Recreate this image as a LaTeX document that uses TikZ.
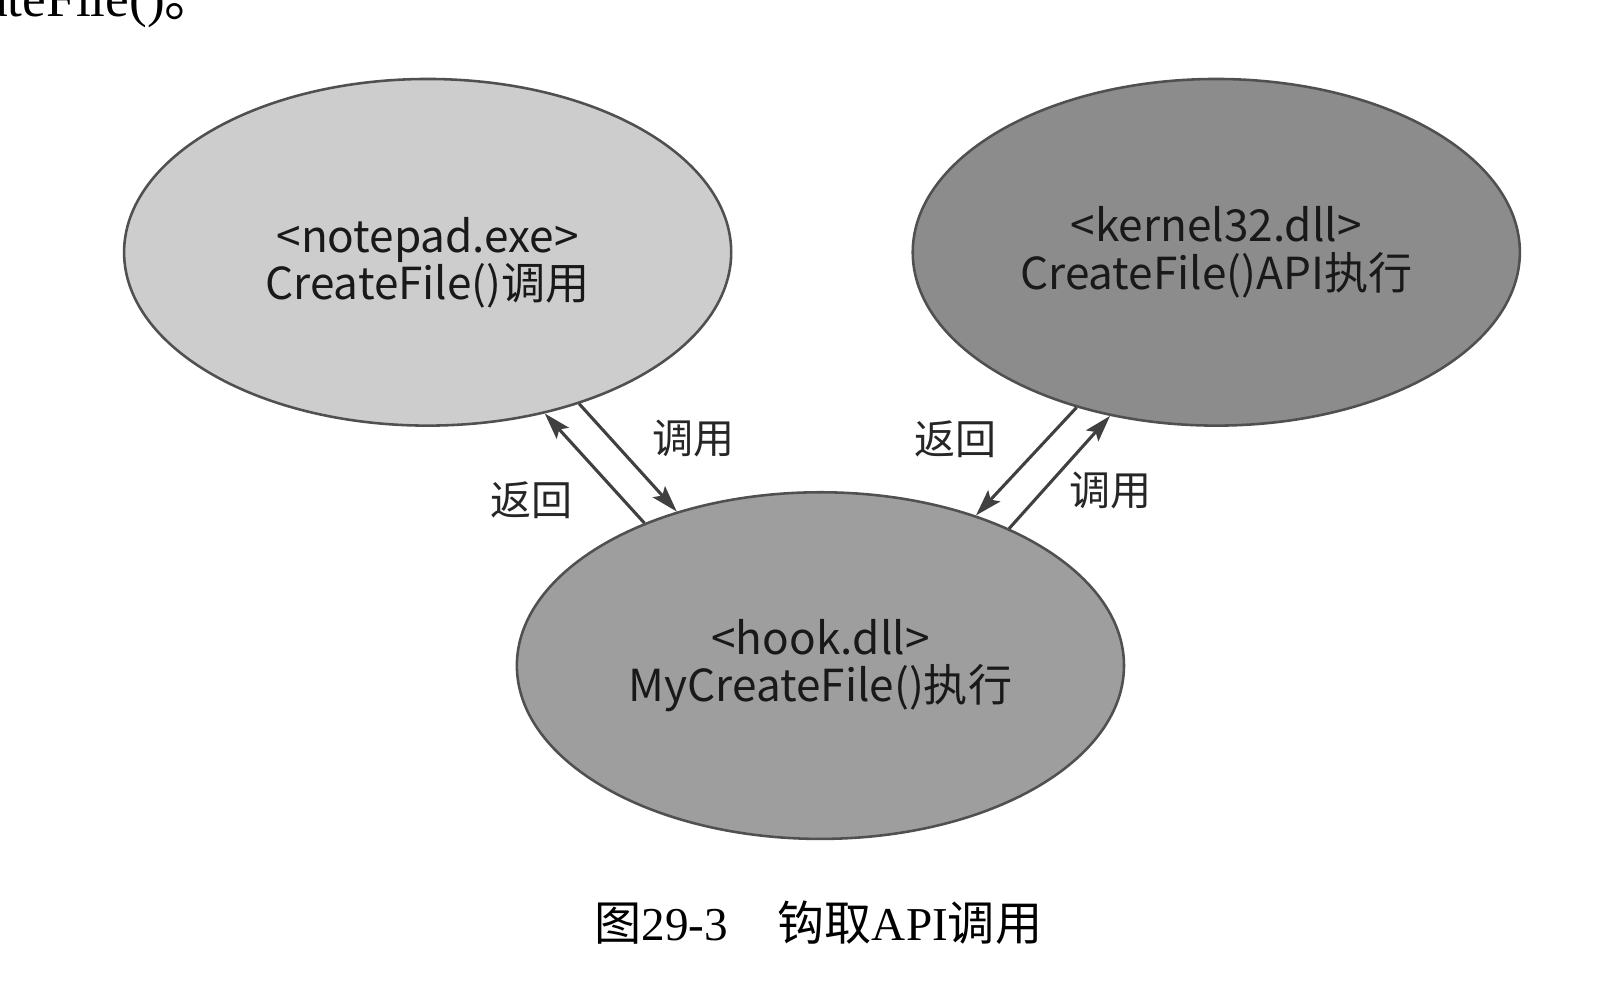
\documentclass[tikz,border=0pt]{standalone}
\usepackage{fontspec}
\setmainfont{Liberation Serif}
\newfontfamily\cjk{Noto Sans CJK SC}
\usetikzlibrary{shapes.geometric,arrows.meta}
\definecolor{edgegray}{HTML}{505050}
\definecolor{lightfill}{HTML}{CDCDCD}
\definecolor{darkfill}{HTML}{8C8C8C}
\definecolor{midfill}{HTML}{9E9E9E}
\definecolor{arrowgray}{HTML}{404040}
\tikzset{
  blob/.style={ellipse, draw=edgegray, line width=2.5pt, minimum width=592pt, minimum height=338pt,
    inner sep=0pt, align=center, font=\cjk\fontsize{43}{46}\selectfont, text=black!90},
  callarrow/.style={draw=arrowgray, line width=3pt, -{Stealth[length=26pt,width=16pt,inset=5pt]}},
  lbl/.style={font=\cjk\fontsize{40}{44}\selectfont, text=black!85, inner sep=0pt},
}
\begin{document}
\begin{tikzpicture}[x=1pt,y=-1pt]
\useasboundingbox (0,0) rectangle (1566,975);
\fill[white] (0,0) rectangle (1566,975);
\clip (0,0) rectangle (1566,975);
\node[anchor=base east, inner sep=0pt, font=\fontsize{52}{56}\selectfont] (frag) at (213,16) {CreateFile(){\cjk 。}};
\node[blob, fill=lightfill] (note) at (417,246) {\rule{0pt}{54pt}<notepad.exe>\\CreateFile()调用};
\node[blob, fill=darkfill] (kern) at (1186,246) {<kernel32.dll>\\CreateFile()API执行};
\node[blob, fill=midfill] (hook) at (800,649) {<hook.dll>\\MyCreateFile()执行};
\draw[callarrow] (hook.141) -- (note.-54);
\draw[callarrow] (note.-45) -- (hook.133);
\draw[callarrow] (kern.-132) -- (hook.44);
\draw[callarrow] (hook.36) -- (kern.-123);
\node[lbl] (l1) at (676,428) {调用};
\node[lbl] (l2) at (518,488) {返回};
\node[lbl] (l3) at (932,428) {返回};
\node[lbl] (l4) at (1083,478) {调用};
\node[inner sep=0pt, font=\fontsize{46}{50}\selectfont] (cap) at (798,900) {{\cjk 图}29-3\hspace{1.05em}{\cjk 钩取}API{\cjk 调用}};
\end{tikzpicture}
\end{document}
